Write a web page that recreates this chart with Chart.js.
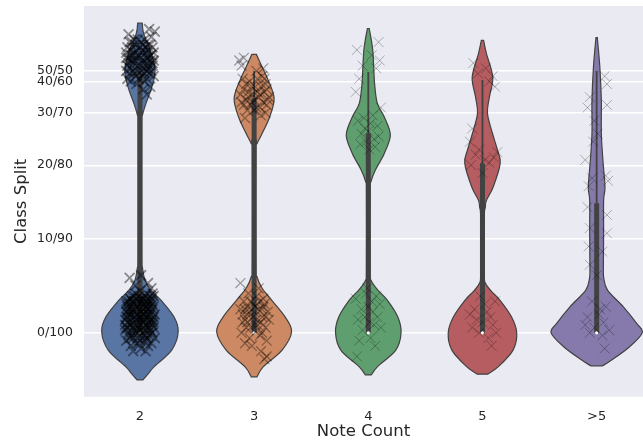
<!DOCTYPE html>
<html>
<head>
<meta charset="utf-8">
<script src="https://cdn.jsdelivr.net/npm/chart.js@4.4.1/dist/chart.umd.min.js"></script>
<style>
html, body { margin: 0; padding: 0; background: #fff; overflow: hidden; }
</style>
</head>
<body>
<canvas id="violin-chart" width="643" height="441"></canvas>
<script>
// categories and axis ticks
const categories = ['2', '3', '4', '5', '>5'];
const splitLabels = ['0/100', '10/90', '20/80', '30/70', '40/60', '50/50'];
const splitTicks = [0, 0.36, 0.64, 0.84, 0.96, 1.0];
const colors = ['#5975a4', '#cc8963', '#5f9e6e', '#b55d60', '#857aab'];

// violin outlines: [value, half width]
const shape2 = [[-0.180, 0.026], [-0.155, 0.075], [-0.130, 0.123], [-0.066, 0.278], [0.004, 0.335], [0.061, 0.298],
  [0.125, 0.184], [0.163, 0.096], [0.201, 0.044], [0.250, 0.022], [0.300, 0.016], [0.800, 0.016], [0.831, 0.022],
  [0.876, 0.053], [0.926, 0.095], [0.977, 0.127], [1.015, 0.130], [1.079, 0.090], [1.143, 0.032], [1.183, 0.020]];
const shape3 = [[-0.168, 0.026], [-0.130, 0.079], [-0.066, 0.245], [0.004, 0.328], [0.061, 0.271], [0.125, 0.153],
  [0.170, 0.070], [0.214, 0.025], [0.260, 0.016], [0.700, 0.016], [0.723, 0.026], [0.761, 0.070], [0.824, 0.136],
  [0.895, 0.175], [0.965, 0.123], [1.015, 0.070], [1.063, 0.020]];
const shape4 = [[-0.161, 0.026], [-0.130, 0.079], [-0.066, 0.241], [0.000, 0.287], [0.061, 0.258], [0.125, 0.166],
  [0.165, 0.080], [0.200, 0.025], [0.240, 0.016], [0.550, 0.016], [0.576, 0.022], [0.621, 0.061], [0.685, 0.140],
  [0.755, 0.193], [0.824, 0.140], [0.876, 0.079], [0.952, 0.055], [1.079, 0.039], [1.162, 0.008]];
const shape5 = [[-0.158, 0.045], [-0.130, 0.137], [-0.066, 0.268], [0.000, 0.300], [0.061, 0.254], [0.125, 0.152],
  [0.160, 0.075], [0.190, 0.025], [0.230, 0.016], [0.440, 0.016], [0.480, 0.025], [0.506, 0.035], [0.557, 0.094],
  [0.647, 0.155], [0.700, 0.130], [0.761, 0.088], [0.837, 0.044], [0.901, 0.061], [0.977, 0.090], [1.066, 0.035],
  [1.117, 0.010]];
const shapeGt5 = [[-0.126, 0.052], [-0.104, 0.131], [-0.053, 0.289], [0.000, 0.399], [0.036, 0.350], [0.099, 0.234],
  [0.163, 0.095], [0.210, 0.062], [0.252, 0.059], [0.379, 0.061], [0.506, 0.061], [0.557, 0.073], [0.659, 0.055],
  [0.761, 0.041], [0.888, 0.041], [1.015, 0.028], [1.127, 0.006]];

// inner box: q1, median, q3, whisker ends
const boxQ1 = [0, 0, 0, 0, 0];
const medians = [0, 0, 0, 0, 0];
const boxQ3 = [0.99, 0.895, 0.761, 0.647, 0.495];
const whiskerLow = [0, 0, 0, 0, 0];
const whiskerHigh = [1.0, 1.0, 0.996, 0.965, 1.0];

// jittered observations: [offset from category, value]
const points2 = [[-0.10, 1.05], [0.02, 1.08], [0.11, 1.02], [-0.05, 0.99], [0.07, 1.10], [-0.12, 1.07], [0.04, 0.96],
  [-0.02, 1.12], [0.09, 1.06], [-0.08, 1.01], [0.12, 0.98], [-0.04, 1.04], [0.01, 1.00], [0.06, 1.03], [-0.11, 0.97],
  [0.10, 1.13], [-0.07, 1.09], [0.03, 0.93], [-0.01, 1.06], [0.08, 0.99], [-0.09, 1.11], [0.05, 1.07], [-0.03, 0.95],
  [0.12, 1.04], [-0.06, 1.03], [0.00, 1.09], [0.09, 0.94], [-0.12, 1.00], [0.04, 1.01], [-0.10, 1.14], [0.07, 1.05],
  [-0.05, 1.07], [0.02, 0.98], [0.11, 1.09], [-0.02, 1.02], [0.06, 0.91], [-0.08, 0.96], [0.13, 1.15], [0.08, 1.16],
  [-0.04, 1.10], [-0.07, 1.04], [0.03, 1.03], [0.10, 1.00], [-0.11, 1.02], [0.05, 1.09], [-0.03, 1.08], [0.08, 1.02],
  [-0.09, 0.99], [0.01, 1.05], [0.12, 1.07], [-0.05, 1.12], [0.06, 0.97], [-0.01, 0.97], [0.04, 1.12], [-0.12, 1.05],
  [0.09, 1.10], [-0.06, 1.00], [0.02, 1.04], [-0.08, 1.06], [0.07, 1.01],
  [-0.06, 1.06], [0.05, 1.05], [-0.10, 1.03], [0.09, 1.04], [-0.02, 1.00], [0.03, 1.10], [-0.08, 1.08], [0.11, 1.03],
  [0.00, 1.02], [-0.04, 0.98], [0.07, 1.08], [-0.11, 1.09], [0.02, 1.07], [0.06, 1.00], [-0.07, 1.11], [0.10, 1.06],
  [-0.03, 1.05], [0.04, 0.99], [-0.09, 1.04], [0.01, 1.11],
  [-0.11, 0.02], [0.05, 0.08], [-0.03, -0.04], [0.10, 0.12], [-0.08, 0.10], [0.02, 0.00], [0.12, 0.04], [-0.12, -0.03],
  [0.07, -0.05], [-0.05, 0.14], [0.00, 0.06], [0.09, 0.01], [-0.10, 0.07], [0.04, 0.11], [-0.02, 0.03], [0.11, 0.09],
  [-0.07, -0.01], [0.06, 0.15], [-0.13, 0.05], [0.01, -0.06], [0.08, 0.06], [-0.04, 0.09], [0.13, -0.02], [-0.09, 0.13],
  [0.03, 0.02], [-0.06, 0.04], [0.10, -0.04], [-0.01, 0.12], [0.05, -0.01], [-0.12, 0.11], [0.07, 0.03], [-0.03, 0.07],
  [0.12, 0.14], [-0.08, -0.05], [0.02, 0.10], [-0.10, 0.00], [0.09, 0.07], [-0.05, 0.01], [0.04, 0.05], [-0.11, 0.08],
  [0.00, 0.16], [0.11, 0.00], [-0.07, 0.12], [0.06, -0.03], [-0.02, -0.02], [0.08, 0.11], [-0.13, 0.01], [0.03, 0.13],
  [-0.04, 0.18], [0.07, 0.19], [-0.09, 0.21], [0.10, 0.17], [0.01, 0.22], [-0.06, -0.07], [0.05, -0.07],
  [-0.09, 0.04], [0.03, 0.07], [0.11, 0.05], [-0.06, 0.11], [0.08, 0.02], [-0.01, 0.09], [0.06, 0.12], [-0.12, 0.06],
  [0.02, 0.13], [-0.04, 0.00], [0.10, 0.08], [-0.08, 0.03], [0.05, 0.10], [-0.02, 0.05], [0.12, 0.10], [-0.10, 0.12],
  [0.00, 0.01], [0.07, 0.09], [-0.05, 0.06], [0.04, -0.03], [-0.11, 0.10], [0.09, 0.14], [-0.03, 0.13], [0.01, 0.08],
  [-0.07, 0.07], [0.06, 0.01], [-0.13, 0.03], [0.13, 0.07], [-0.01, -0.04], [0.03, 0.04], [-0.09, -0.02], [0.08, -0.01],
  [-0.04, 0.15], [0.11, 0.15], [-0.06, 0.02], [0.02, 0.06], [0.05, 0.14], [-0.12, 0.08], [0.10, 0.04], [-0.02, 0.10],
  [-0.08, 0.06], [0.06, 0.09], [-0.01, 0.02], [0.10, 0.13], [-0.11, 0.04], [0.04, 0.01], [-0.05, 0.12], [0.08, 0.04],
  [-0.03, 0.10], [0.12, 0.02], [-0.09, 0.08], [0.01, 0.11], [0.07, 0.07], [-0.06, -0.02], [0.03, 0.09], [-0.12, 0.12],
  [0.09, 0.10], [-0.02, 0.07], [0.05, 0.03], [-0.10, -0.01], [0.11, 0.11], [-0.04, 0.05], [0.00, 0.13], [0.06, -0.02],
  [-0.07, 0.09], [0.02, 0.04], [-0.11, 0.06], [0.08, 0.12], [-0.03, 0.01], [0.10, 0.00], [-0.08, 0.13], [0.04, 0.07],
  [-0.01, 0.14], [0.12, 0.06], [-0.06, 0.08], [0.03, -0.01], [-0.09, 0.11], [0.07, 0.13], [-0.02, 0.00], [0.05, 0.06],
  [-0.12, 0.02], [0.09, 0.05], [-0.05, 0.03], [0.01, 0.05], [0.11, 0.03], [-0.07, 0.14], [0.00, -0.03], [0.06, 0.10],
  [-0.10, 0.09], [0.02, 0.12]];
const points3 = [[-0.09, 0.93], [0.04, 0.90], [0.10, 0.95], [-0.03, 0.87], [0.07, 0.98], [-0.12, 0.91], [0.01, 0.94],
  [-0.06, 0.85], [0.12, 0.89], [0.05, 0.86], [-0.10, 0.97], [0.02, 1.00], [-0.01, 0.91], [0.09, 0.92], [-0.07, 0.89],
  [0.06, 0.83], [-0.04, 0.96], [0.11, 0.87], [-0.11, 1.02], [0.03, 0.97], [-0.08, 0.82], [0.08, 1.01], [-0.02, 0.88],
  [0.00, 0.85], [-0.13, 1.04], [0.10, 0.84], [-0.05, 0.92], [0.06, 0.94], [-0.09, 1.05], [0.13, 0.90],
  [-0.05, 0.90], [0.03, 0.92], [0.08, 0.88], [-0.09, 0.87], [0.00, 0.89], [0.11, 0.93], [-0.02, 0.94], [0.05, 0.91],
  [-0.07, 0.95], [0.02, 0.86], [0.09, 0.97], [-0.11, 0.88],
  [-0.08, 0.05], [0.04, 0.09], [0.10, 0.02], [-0.03, 0.12], [0.07, 0.06], [-0.11, 0.00], [0.01, 0.03], [-0.06, 0.10],
  [0.12, 0.08], [0.05, -0.01], [-0.10, 0.07], [0.02, 0.14], [-0.01, 0.06], [0.09, 0.11], [-0.07, 0.02], [0.06, 0.04],
  [-0.04, -0.02], [0.11, -0.03], [-0.12, 0.09], [0.03, 0.01], [-0.05, 0.15], [0.08, 0.13], [-0.09, 0.12], [0.00, 0.08],
  [0.13, 0.05], [-0.02, -0.05], [0.06, -0.07], [0.09, -0.10], [-0.08, -0.04], [0.04, 0.17], [-0.12, 0.19], [0.01, 0.10],
  [-0.06, 0.04], [0.07, 0.00], [0.11, -0.09],
  [-0.04, 0.08], [0.02, 0.05], [0.08, 0.10], [-0.08, 0.09], [0.05, 0.12], [-0.01, 0.11], [0.10, 0.06], [-0.06, 0.07],
  [0.03, 0.03], [-0.03, 0.02], [0.07, 0.09], [-0.10, 0.04]];
const points4 = [[-0.10, 1.08], [0.09, 1.11], [0.10, 1.04], [0.03, 1.06], [-0.05, 1.02], [0.07, 1.01], [-0.08, 0.97],
  [-0.11, 0.92], [0.11, 0.86], [-0.03, 0.78], [0.02, 0.80], [-0.06, 0.76], [0.05, 0.74], [0.08, 0.79], [-0.09, 0.81],
  [0.00, 0.77], [-0.02, 0.73], [0.04, 0.83], [-0.07, 0.72], [0.09, 0.75], [0.01, 0.70], [-0.04, 0.82], [0.06, 0.71],
  [-0.06, 0.09], [0.03, 0.12], [0.08, 0.06], [-0.02, 0.15], [0.05, 0.03], [-0.09, 0.05], [0.00, 0.10], [0.10, 0.11],
  [-0.05, 0.01], [0.04, 0.08], [-0.11, 0.13], [0.07, 0.14], [-0.03, 0.06], [0.01, 0.04], [0.11, 0.02], [-0.08, -0.03],
  [-0.10, -0.09], [0.06, -0.05], [-0.01, 0.17], [0.02, -0.02]];
const points5 = [[-0.08, 1.03], [0.03, 1.01], [0.09, 0.98], [0.06, 0.96], [-0.04, 0.99], [0.11, 0.94], [-0.09, 0.78],
  [-0.11, 0.73], [-0.06, 0.68], [0.02, 0.66], [0.10, 0.67], [-0.03, 0.70], [0.06, 0.65], [0.13, 0.69], [-0.10, 0.64],
  [0.00, 0.61],
  [-0.05, 0.05], [0.04, 0.08], [0.09, 0.03], [-0.09, 0.02], [0.02, 0.11], [0.07, 0.06], [-0.03, 0.00], [0.11, 0.12],
  [-0.07, 0.09], [0.00, 0.04], [0.05, -0.02], [-0.11, 0.07], [0.08, -0.05], [0.12, 0.00], [-0.02, 0.14]];
const pointsGt5 = [[0.07, 0.98], [0.09, 0.95], [-0.06, 0.90], [-0.08, 0.86], [0.09, 0.87], [-0.02, 0.81], [0.01, 0.76],
  [-0.03, 0.73], [-0.10, 0.66], [0.08, 0.60], [0.10, 0.58], [-0.04, 0.59], [-0.07, 0.56], [-0.08, 0.48], [0.09, 0.45],
  [-0.06, 0.40], [0.09, 0.38], [-0.07, 0.33], [0.05, 0.31], [-0.06, 0.26], [0.00, 0.22], [-0.04, 0.12], [0.03, 0.09],
  [-0.08, 0.06], [0.06, 0.04], [-0.02, 0.02], [0.08, 0.10], [-0.10, 0.03], [0.02, 0.07], [0.05, -0.01], [-0.06, 0.00],
  [0.07, -0.06], [0.11, 0.01]];

const shapes = [shape2, shape3, shape4, shape5, shapeGt5];
const pointSets = [points2, points3, points4, points5, pointsGt5];
// the first two groups hold far more observations, so their crosses pile up darker
const markerAlpha = [0.42, 0.34, 0.28, 0.28, 0.28];
const markerWidth = [1.8, 1.3, 1, 1, 1];

const ink = '#262626';
const lineGray = '#424242';
Chart.defaults.font.family = 'DejaVu Sans';
Chart.defaults.color = ink;

function smoothThrough(ctx, pts) {
    for (let k = 0; k < pts.length - 1; k++) {
        const p0 = pts[k - 1] || pts[k], p1 = pts[k], p2 = pts[k + 1], p3 = pts[k + 2] || pts[k + 1];
        ctx.bezierCurveTo(
            p1[0] + (p2[0] - p0[0]) / 6, p1[1] + (p2[1] - p0[1]) / 6,
            p2[0] - (p3[0] - p1[0]) / 6, p2[1] - (p3[1] - p1[1]) / 6,
            p2[0], p2[1]);
    }
}

const violinPlugin = {
    id: 'violins',
    beforeDraw(chart) {
        const {ctx, chartArea: a} = chart;
        ctx.save();
        ctx.fillStyle = '#eaeaf2';
        ctx.fillRect(a.left, a.top, a.right - a.left, a.bottom - a.top);
        ctx.restore();
    },
    beforeDatasetsDraw(chart) {
        const {ctx, chartArea: a, scales: {x, y}} = chart;
        ctx.save();
        ctx.beginPath();
        ctx.rect(a.left, a.top, a.right - a.left, a.bottom - a.top);
        ctx.clip();
        shapes.forEach((shape, i) => {
            const right = shape.map(([v, w]) => [x.getPixelForValue(i + w), y.getPixelForValue(v)]);
            const left = shape.map(([v, w]) => [x.getPixelForValue(i - w), y.getPixelForValue(v)]).reverse();
            ctx.beginPath();
            ctx.moveTo(left[left.length - 1][0], left[left.length - 1][1]);
            ctx.lineTo(right[0][0], right[0][1]);
            smoothThrough(ctx, right);
            ctx.lineTo(left[0][0], left[0][1]);
            smoothThrough(ctx, left);
            ctx.closePath();
            ctx.fillStyle = colors[i];
            ctx.fill();
            ctx.strokeStyle = lineGray;
            ctx.lineWidth = 1.2;
            ctx.stroke();

            const cx = x.getPixelForValue(i);
            ctx.strokeStyle = lineGray;
            ctx.lineCap = 'butt';
            ctx.lineWidth = 1.8;
            ctx.beginPath();
            ctx.moveTo(cx, y.getPixelForValue(whiskerLow[i]));
            ctx.lineTo(cx, y.getPixelForValue(whiskerHigh[i]));
            ctx.stroke();
            ctx.lineWidth = 5;
            ctx.beginPath();
            ctx.moveTo(cx, y.getPixelForValue(boxQ1[i]));
            ctx.lineTo(cx, y.getPixelForValue(boxQ3[i]));
            ctx.stroke();
            ctx.fillStyle = '#ffffff';
            ctx.beginPath();
            ctx.arc(cx, y.getPixelForValue(medians[i]), 1.6, 0, Math.PI * 2);
            ctx.fill();
        });
        ctx.restore();
    }
};

const ctx = document.getElementById('violin-chart');
const chart = new Chart(ctx, {
    type: 'scatter',
    data: {
        datasets: pointSets.map((pts, i) => ({
            label: categories[i],
            data: pts.map(([dx, v]) => ({x: i + dx, y: v})),
            pointStyle: 'crossRot',
            pointRadius: 7,
            pointBorderWidth: markerWidth[i],
            pointBorderColor: 'rgba(0,0,0,' + markerAlpha[i] + ')',
            pointBackgroundColor: 'rgba(0,0,0,0)',
        }))
    },
    options: {
        responsive: false,
        animation: false,
        events: [],
        layout: {autoPadding: false, padding: {top: 6, right: 0, left: 0, bottom: 0}},
        plugins: {
            legend: {display: false},
            tooltip: {enabled: false},
        },
        scales: {
            x: {
                type: 'linear',
                min: -0.49,
                max: 4.406,
                afterBuildTicks: s => { s.ticks = categories.map((c, i) => ({value: i})); },
                afterFit: s => { s.height = 44.3; s.paddingLeft = 0; s.paddingRight = 0; },
                ticks: {
                    callback: v => categories[v],
                    autoSkip: false,
                    maxRotation: 0,
                    padding: 4,
                    color: ink,
                    font: {size: 13},
                },
                grid: {display: false},
                border: {display: false},
                title: {
                    display: true,
                    text: 'Note Count',
                    color: ink,
                    font: {size: 16.5, lineHeight: 1},
                    padding: {top: 0, bottom: 1},
                },
            },
            y: {
                min: -0.244,
                max: 1.248,
                afterBuildTicks: s => { s.ticks = splitTicks.map(v => ({value: v})); },
                afterFit: s => { s.width = 84; s.paddingTop = 0; s.paddingBottom = 0; },
                ticks: {
                    callback: (v, idx) => splitLabels[idx],
                    autoSkip: false,
                    padding: 11,
                    color: ink,
                    font: {size: 12.5},
                },
                grid: {color: '#ffffff', lineWidth: 1.4, drawTicks: false},
                border: {display: false},
                title: {
                    display: true,
                    text: 'Class Split',
                    color: ink,
                    font: {size: 16.5, lineHeight: 1},
                    padding: {top: 13.5, bottom: 0},
                },
            }
        }
    },
    plugins: [violinPlugin]
});
</script>
</body>
</html>
